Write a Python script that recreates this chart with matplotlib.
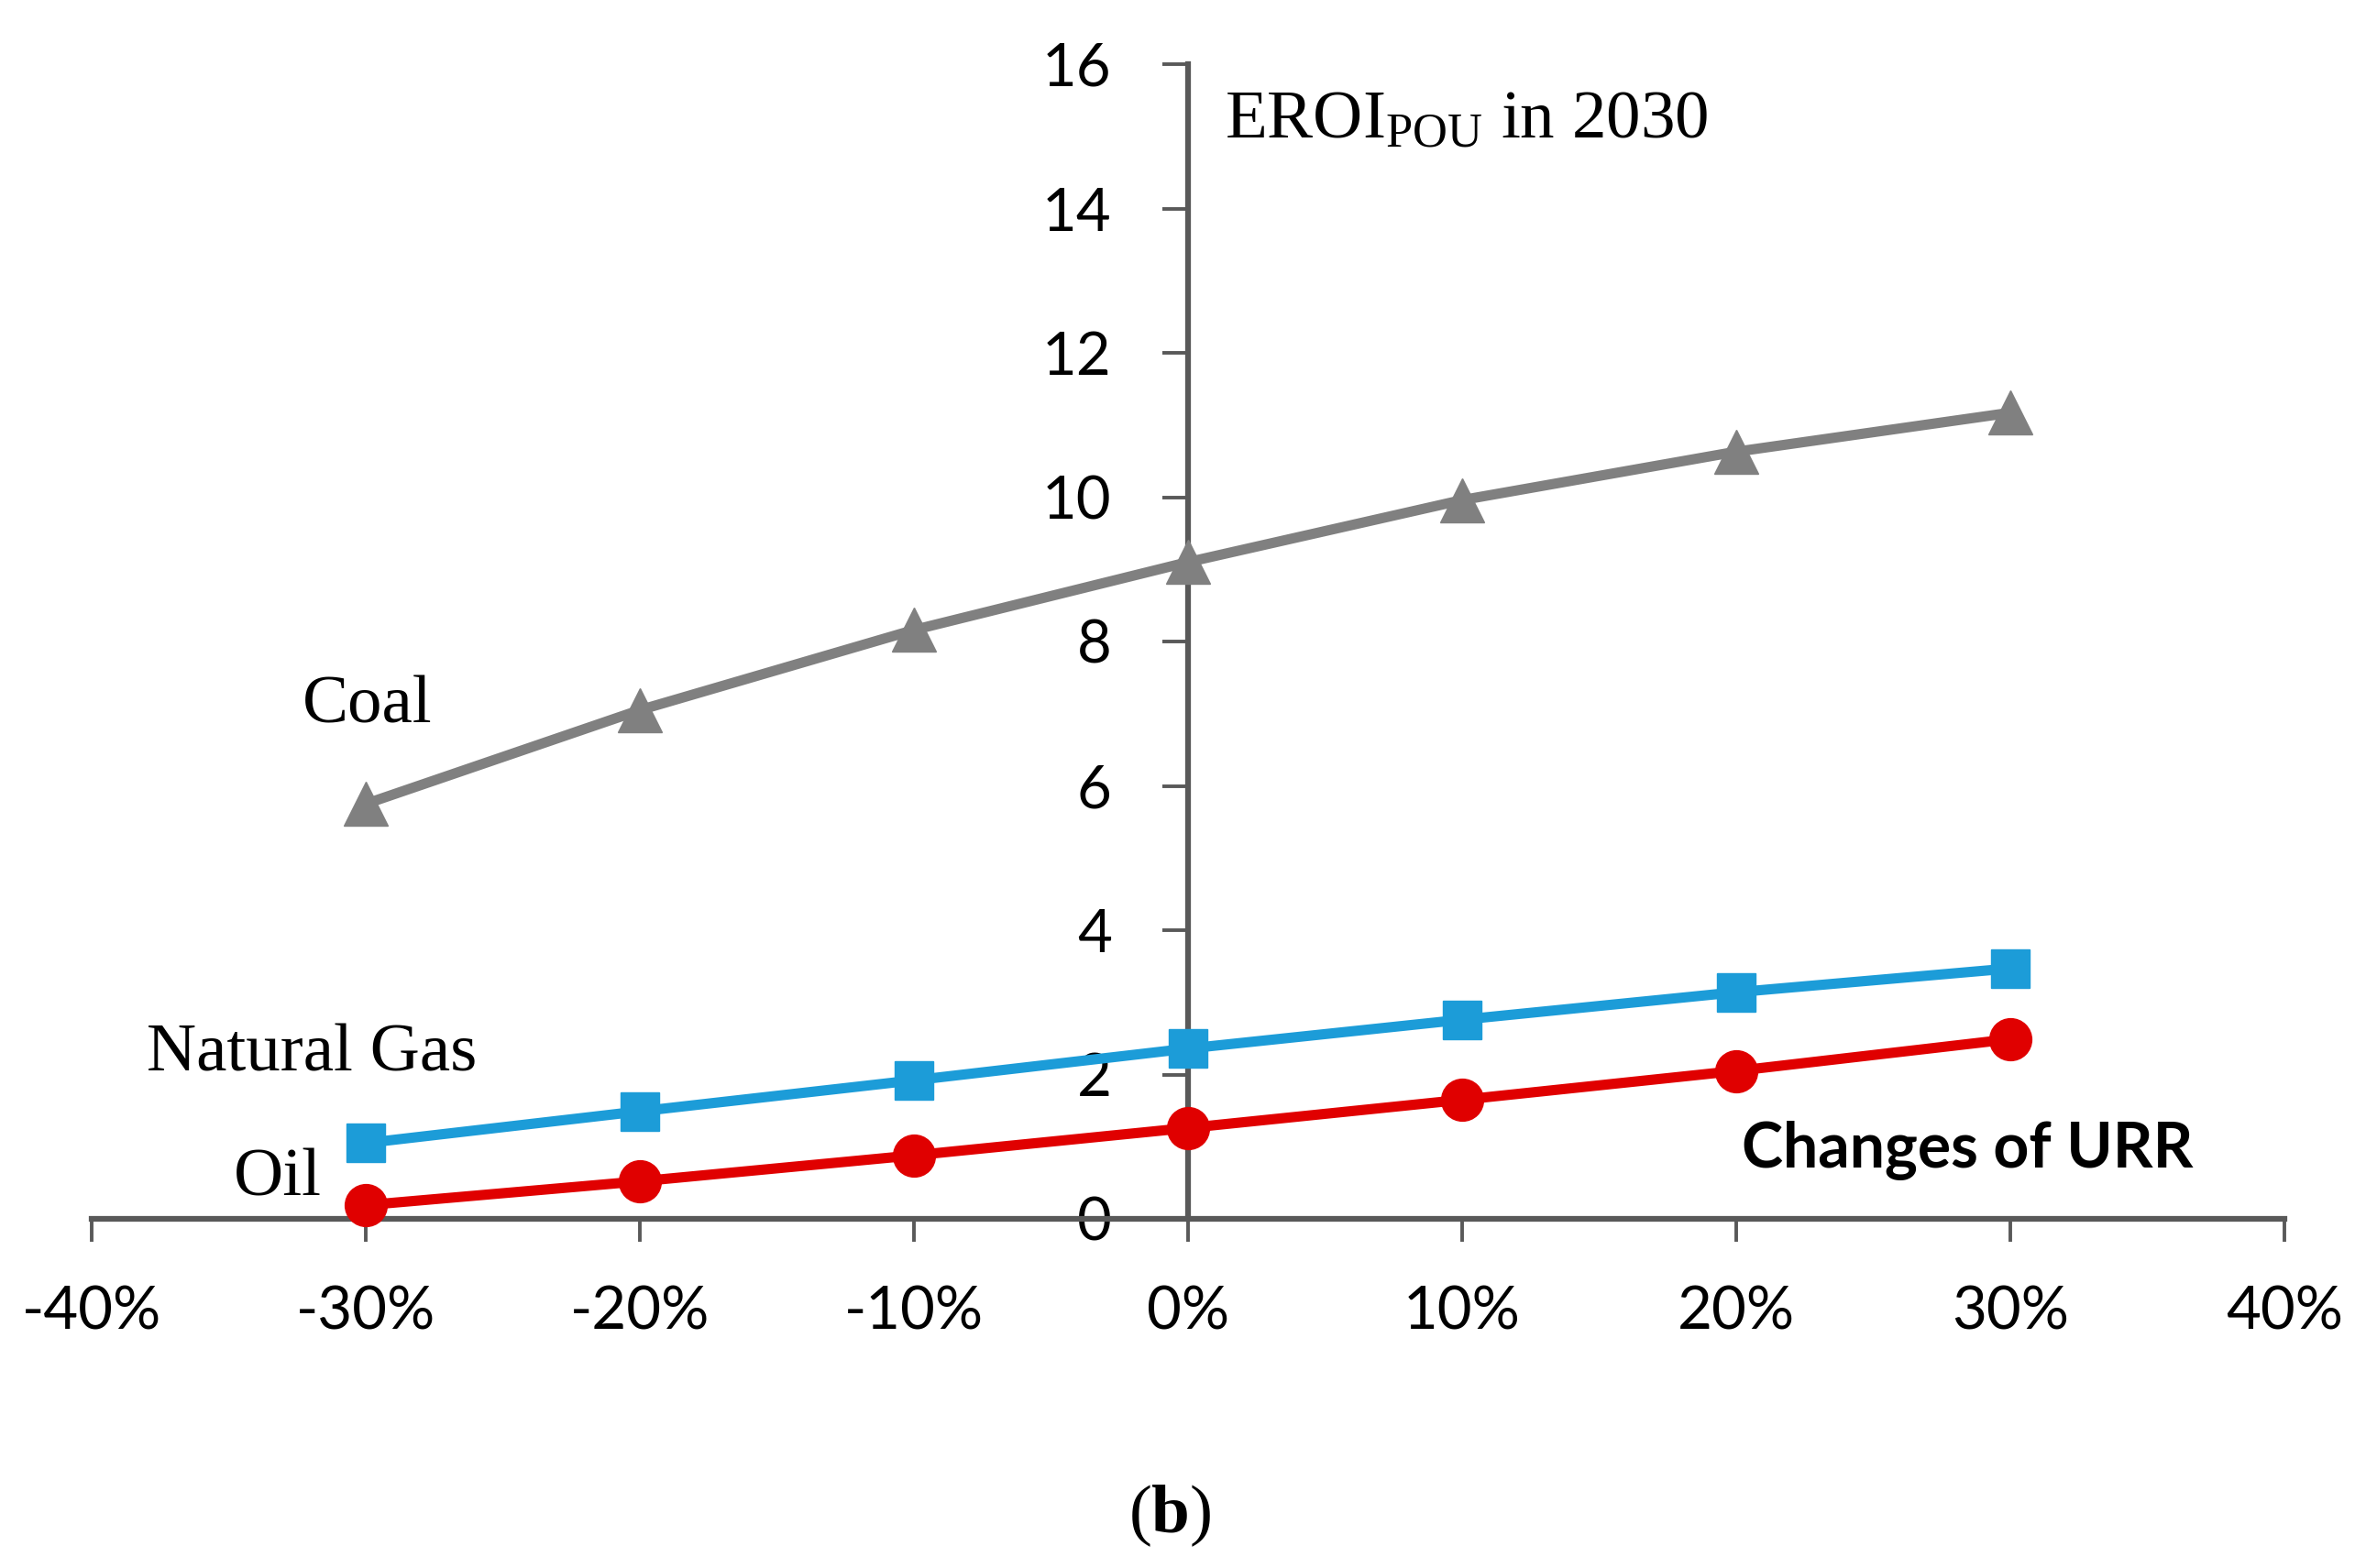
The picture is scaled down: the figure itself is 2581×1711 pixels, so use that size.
import matplotlib
matplotlib.use("Agg")
import matplotlib.pyplot as plt

changes = [-0.30, -0.20, -0.10, 0.0, 0.10, 0.20, 0.30]
coal = [5.75, 7.05, 8.16, 9.10, 9.96, 10.63, 11.17]
natural_gas = [1.05, 1.49, 1.92, 2.36, 2.76, 3.14, 3.47]
oil = [0.19, 0.52, 0.88, 1.26, 1.65, 2.05, 2.49]
x_ticks = [-0.4, -0.3, -0.2, -0.1, 0.0, 0.1, 0.2, 0.3, 0.4]
x_labels = ["-40%", "-30%", "-20%", "-10%", "0%", "10%", "20%", "30%", "40%"]
y_ticks = [0, 2, 4, 6, 8, 10, 12, 14, 16]

plt.rcParams['mathtext.fontset'] = 'custom'
plt.rcParams['mathtext.rm'] = 'Liberation Serif'
plt.rcParams['mathtext.bf'] = 'Liberation Serif:bold'

W, H = 2581, 1711
fig = plt.figure(figsize=(W / 100, H / 100), dpi=100)
left, right = 100 / W, 2492 / W
bottom, top = 1 - 1330 / H, 1 - 70 / H
ax = fig.add_axes([left, bottom, right - left, top - bottom])
ax.set_xlim(-0.4, 0.4)
ax.set_ylim(0, 16)

axis_color = "#595959"
for s in ["top", "right"]:
    ax.spines[s].set_visible(False)
ax.spines["left"].set_position(("data", 0))
ax.spines["bottom"].set_position(("data", 0))
for s in ["left", "bottom"]:
    ax.spines[s].set_color(axis_color)
    ax.spines[s].set_linewidth(4.5)

ax.set_xticks(x_ticks)
ax.set_xticklabels(x_labels)
ax.set_yticks(y_ticks)
ax.set_yticklabels([str(v) for v in y_ticks])
ax.tick_params(axis="x", direction="out", length=18, width=2.8, color=axis_color,
               pad=34, labelsize=47)
ax.tick_params(axis="y", direction="out", length=20, width=2.8, color=axis_color,
               pad=40, labelsize=47)
for lbl in ax.get_xticklabels() + ax.get_yticklabels():
    lbl.set_fontfamily("Lato")

ax.plot(changes, coal, color="#808080", lw=8, marker="^", ms=34, zorder=4, clip_on=False)
ax.plot(changes, natural_gas, color="#1C9CD8", lw=8, marker="s", ms=30, zorder=4, clip_on=False)
ax.plot(changes, oil, color="#E00000", lw=8, marker="o", ms=33, zorder=4, clip_on=False)

serif = "Liberation Serif"
fig.text(1336 / W, 1 - 150 / H, r"$\mathrm{EROI_{POU}}$ in 2030",
         fontsize=54, family=serif, ha="left", va="baseline")
fig.text(330 / W, 1 - 771 / H, "Coal", fontsize=54, family=serif, ha="left", va="center")
fig.text(160 / W, 1 - 1151 / H, "Natural Gas", fontsize=54, family=serif, ha="left", va="center")
fig.text(255 / W, 1 - 1287 / H, "Oil", fontsize=54, family=serif, ha="left", va="center")
fig.text(1900 / W, 1 - 1256 / H, "Changes of URR", fontsize=49, family="Lato",
         fontweight="bold", ha="left", va="center")
fig.text(1276 / W, 1 - 1654 / H, r"($\mathbf{b}$)", fontsize=54, family=serif,
         ha="center", va="center")

fig.savefig("out.png", dpi=100)
